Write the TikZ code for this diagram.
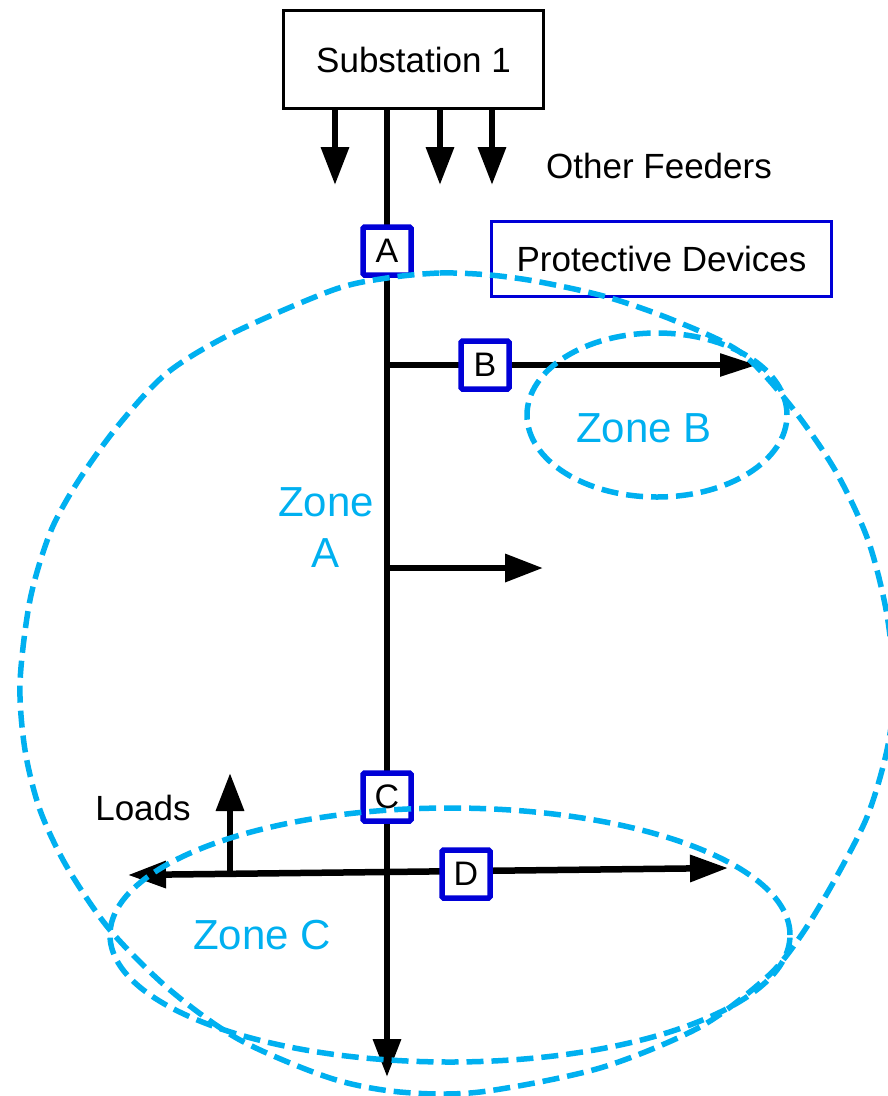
\documentclass[tikz,border=0pt]{standalone}
\usepackage{fontspec}
\setmainfont{Liberation Sans}
\usetikzlibrary{arrows.meta}
\definecolor{zoneblue}{RGB}{0,176,240}
\definecolor{devblue}{RGB}{0,0,215}
\begin{document}
\begin{tikzpicture}[x=1pt,y=-1pt,
  feeder/.style={line width=6.5pt,-{Triangle[length=38pt,width=27pt]}},
  devbox/.style={draw=devblue,line width=5.5pt,fill=white,rounded corners=1.5pt,
    minimum width=48pt,minimum height=48pt,inner sep=0pt,
    font=\fontsize{34}{34}\selectfont},
  zone/.style={draw=zoneblue,line width=5.5pt,dash pattern=on 17pt off 8pt},
  zonelabel/.style={text=zoneblue,font=\fontsize{42}{51}\selectfont,align=center},
  txt/.style={font=\fontsize{35}{40}\selectfont}]
\useasboundingbox (0,0) rectangle (888,1096);

% substation and feeder end points
\node[draw,line width=3pt,minimum width=260pt,minimum height=98pt,txt] (sub) at (413.5,59.5) {Substation 1};
\coordinate (bottom) at (387,1077);
\coordinate (f1) at (335,185);
\coordinate (f2) at (440,185);
\coordinate (f3) at (492,185);
\coordinate (jB) at (387,365);
\coordinate (endB) at (757,365);
\coordinate (jM) at (387,568);
\coordinate (endM) at (543,568);
\coordinate (endL) at (128,875);
\coordinate (endR) at (728,868);
\coordinate (ldbase) at (230,874);
\coordinate (ldtip) at (230,773);

% feeders and laterals
\draw[feeder] (sub.south -| bottom) -- (bottom);
\draw[feeder] (sub.south -| f1) -- (f1);
\draw[feeder] (sub.south -| f2) -- (f2);
\draw[feeder] (sub.south -| f3) -- (f3);
\draw[line width=5.5pt,-{Triangle[length=37pt,width=22pt]}] (jB) -- (endB);
\draw[feeder] (jM) -- (endM);
\draw[line width=6.5pt,{Triangle[length=38pt,width=26pt]}-{Triangle[length=38pt,width=26pt]}] (endL) -- (endR);
\draw[feeder] (ldbase) -- (ldtip);

% protective devices
\node[devbox] (A) at (387,251) {A};
\node[devbox] (B) at (485,365) {B};
\node[devbox] (C) at (387,797) {C};
\node[devbox] (D) at (466,874) {D};
\node[draw=devblue,line width=3pt,fill=white,minimum width=340pt,minimum height=75pt,txt] (pd) at (661.5,258.5) {Protective Devices};

% labels
\node[txt] (of) at (659,166) {Other Feeders};
\node[txt] (loads) at (143,808) {Loads};

% protection zones
\draw[zone] plot[smooth cycle] coordinates {
  (387,278) (440,273) (490,275) (540,282) (607,297) (673,320) (740,352)
  (790,405) (835,470) (868,540) (887,615) (894,690) (887,750) (867,817)
  (833,883) (800,937) (767,977) (700,1027) (600,1068) (480,1092) (400,1092)
  (330,1078) (240,1040) (170,990) (110,930) (67,867) (40,810) (25,750)
  (20,683) (30,600) (50,533) (77,483) (117,427) (167,373) (233,333) (333,290)};
\draw[zone] (657,415) ellipse [x radius=130pt,y radius=82pt];
\draw[zone] (450,935) ellipse [x radius=340pt,y radius=127pt];

\node[zonelabel] (zA) at (326,528) {Zone\\A};
\node[zonelabel] (zB) at (644,428) {Zone B};
\node[zonelabel] (zC) at (262,935) {Zone C};
\end{tikzpicture}
\end{document}
